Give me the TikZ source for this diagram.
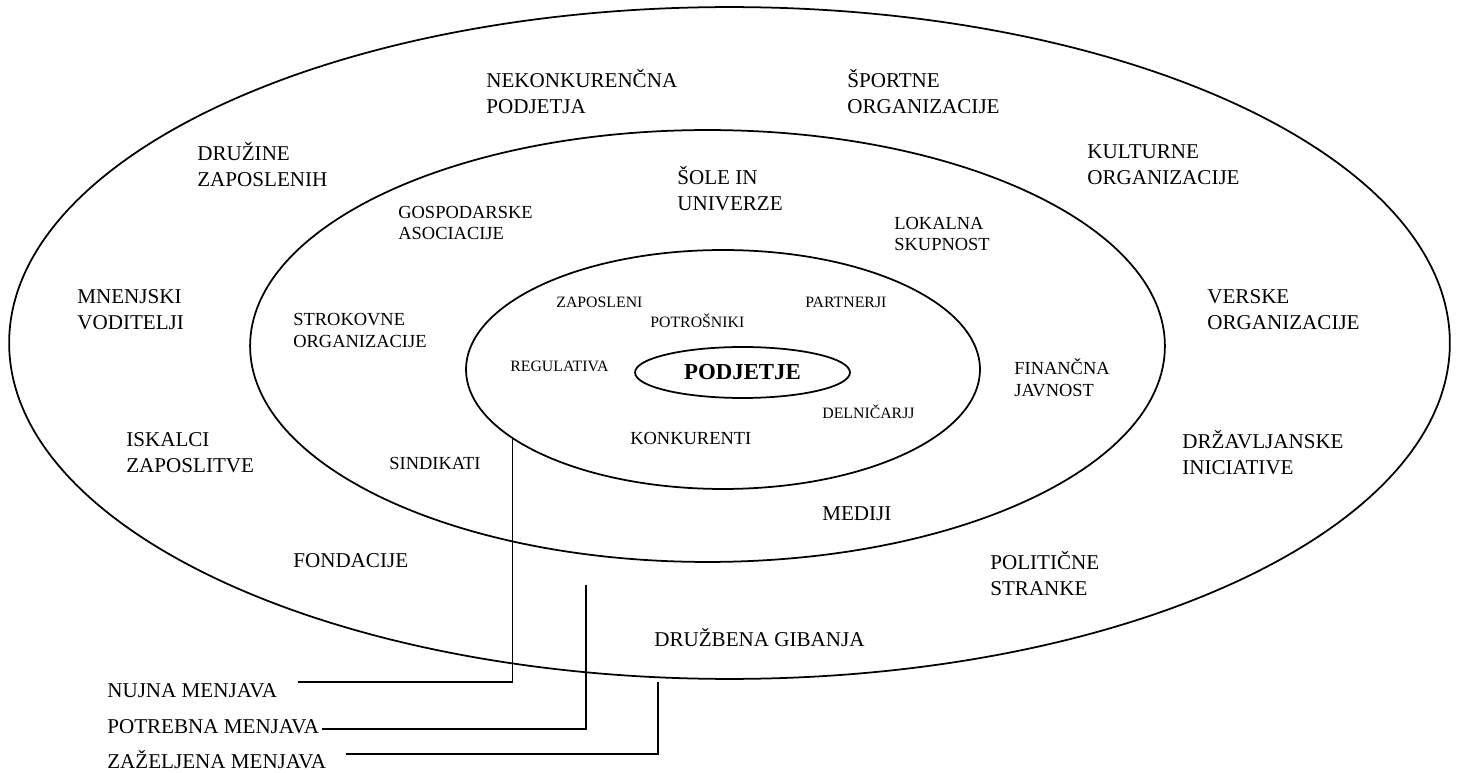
\documentclass[tikz,border=0pt]{standalone}
\usepackage{fontspec}
\setmainfont{Liberation Serif}
\usetikzlibrary{shapes.geometric}

\begin{document}
\begin{tikzpicture}[x=0.02cm,y=-0.02cm,
  ring/.style={draw,ellipse,line width=1pt,inner sep=0pt,outer sep=0pt},
  big/.style={anchor=west,align=left,inner sep=0pt,font=\fontsize{12}{14.8}\selectfont},
  mid/.style={anchor=west,align=left,inner sep=0pt,font=\fontsize{10.5}{12.5}\selectfont},
  small/.style={anchor=west,inner sep=0pt,font=\fontsize{9}{11}\selectfont},
  link/.style={line width=1pt}]
\useasboundingbox (0,0) rectangle (1458,773);
% rings
\node[ring,minimum width=28.82cm,minimum height=13.44cm] (outer) at (729.5,343) {};
\node[ring,minimum width=18.3cm,minimum height=8.64cm] (middle) at (707.5,346) {};
\node[ring,minimum width=10.28cm,minimum height=4.78cm] (inner) at (723,369.5) {};
\node[ring,minimum width=4.3cm,minimum height=1.02cm,font=\fontsize{13}{15}\selectfont\bfseries] (podjetje) at (742.5,372.5) {PODJETJE};
% outer ring
\node[big] (nekonk) at (486,92) {NEKONKURENČNA\\PODJETJA};
\node[big] (sportne) at (847,92) {ŠPORTNE\\ORGANIZACIJE};
\node[big] (druzine) at (197,165) {DRUŽINE\\ZAPOSLENIH};
\node[big] (kulturne) at (1087,165) {KULTURNE\\ORGANIZACIJE};
\node[big] (mnenjski) at (77,309.5) {MNENJSKI\\VODITELJI};
\node[big] (verske) at (1207,309.5) {VERSKE\\ORGANIZACIJE};
\node[big] (iskalci) at (126,452.5) {ISKALCI\\ZAPOSLITVE};
\node[big] (drzavljanske) at (1182,452.5) {DRŽAVLJANSKE\\INICIATIVE};
\node[big] (fondacije) at (293,561) {FONDACIJE};
\node[big] (politicne) at (990,573.5) {POLITIČNE\\STRANKE};
\node[big] (gibanja) at (654,638) {DRUŽBENA GIBANJA};
% middle ring
\node[big] (sole) at (677,188.5) {ŠOLE IN\\UNIVERZE};
\node[mid] (gospodarske) at (398,223) {GOSPODARSKE\\ASOCIACIJE};
\node[mid] (lokalna) at (894,234) {LOKALNA\\SKUPNOST};
\node[mid] (strokovne) at (293,330.5) {STROKOVNE\\ORGANIZACIJE};
\node[mid] (financna) at (1014,378) {FINANČNA\\JAVNOST};
\node[mid] (sindikati) at (389,463) {SINDIKATI};
\node[big] (mediji) at (822,514) {MEDIJI};
% inner ring
\node[small] (zaposleni) at (556,302) {ZAPOSLENI};
\node[small] (partnerji) at (805,302) {PARTNERJI};
\node[small] (potrosniki) at (650,321) {POTROŠNIKI};
\node[small] (regulativa) at (510,366) {REGULATIVA};
\node[small] (delnicarjj) at (822,412) {DELNIČARJJ};
\node[mid] (konkurenti) at (630,438) {KONKURENTI};
% legend
\node[big] (nujna) at (107,691) {NUJNA MENJAVA};
\node[big] (potrebna) at (107,727) {POTREBNA MENJAVA};
\node[big] (zazeljena) at (107,760) {ZAŽELJENA MENJAVA};
\coordinate (nujnaend) at (298,682);
\coordinate (potrebnatop) at (586,585);
\coordinate (potrebnaend) at (322,729);
\coordinate (zazeljenatop) at (658,682);
\coordinate (zazeljenaend) at (346,754);
\draw[link] (inner.198.4) |- (nujnaend);
\draw[link] (potrebnatop) |- (potrebnaend);
\draw[link] (zazeljenatop) |- (zazeljenaend);
\end{tikzpicture}
\end{document}
